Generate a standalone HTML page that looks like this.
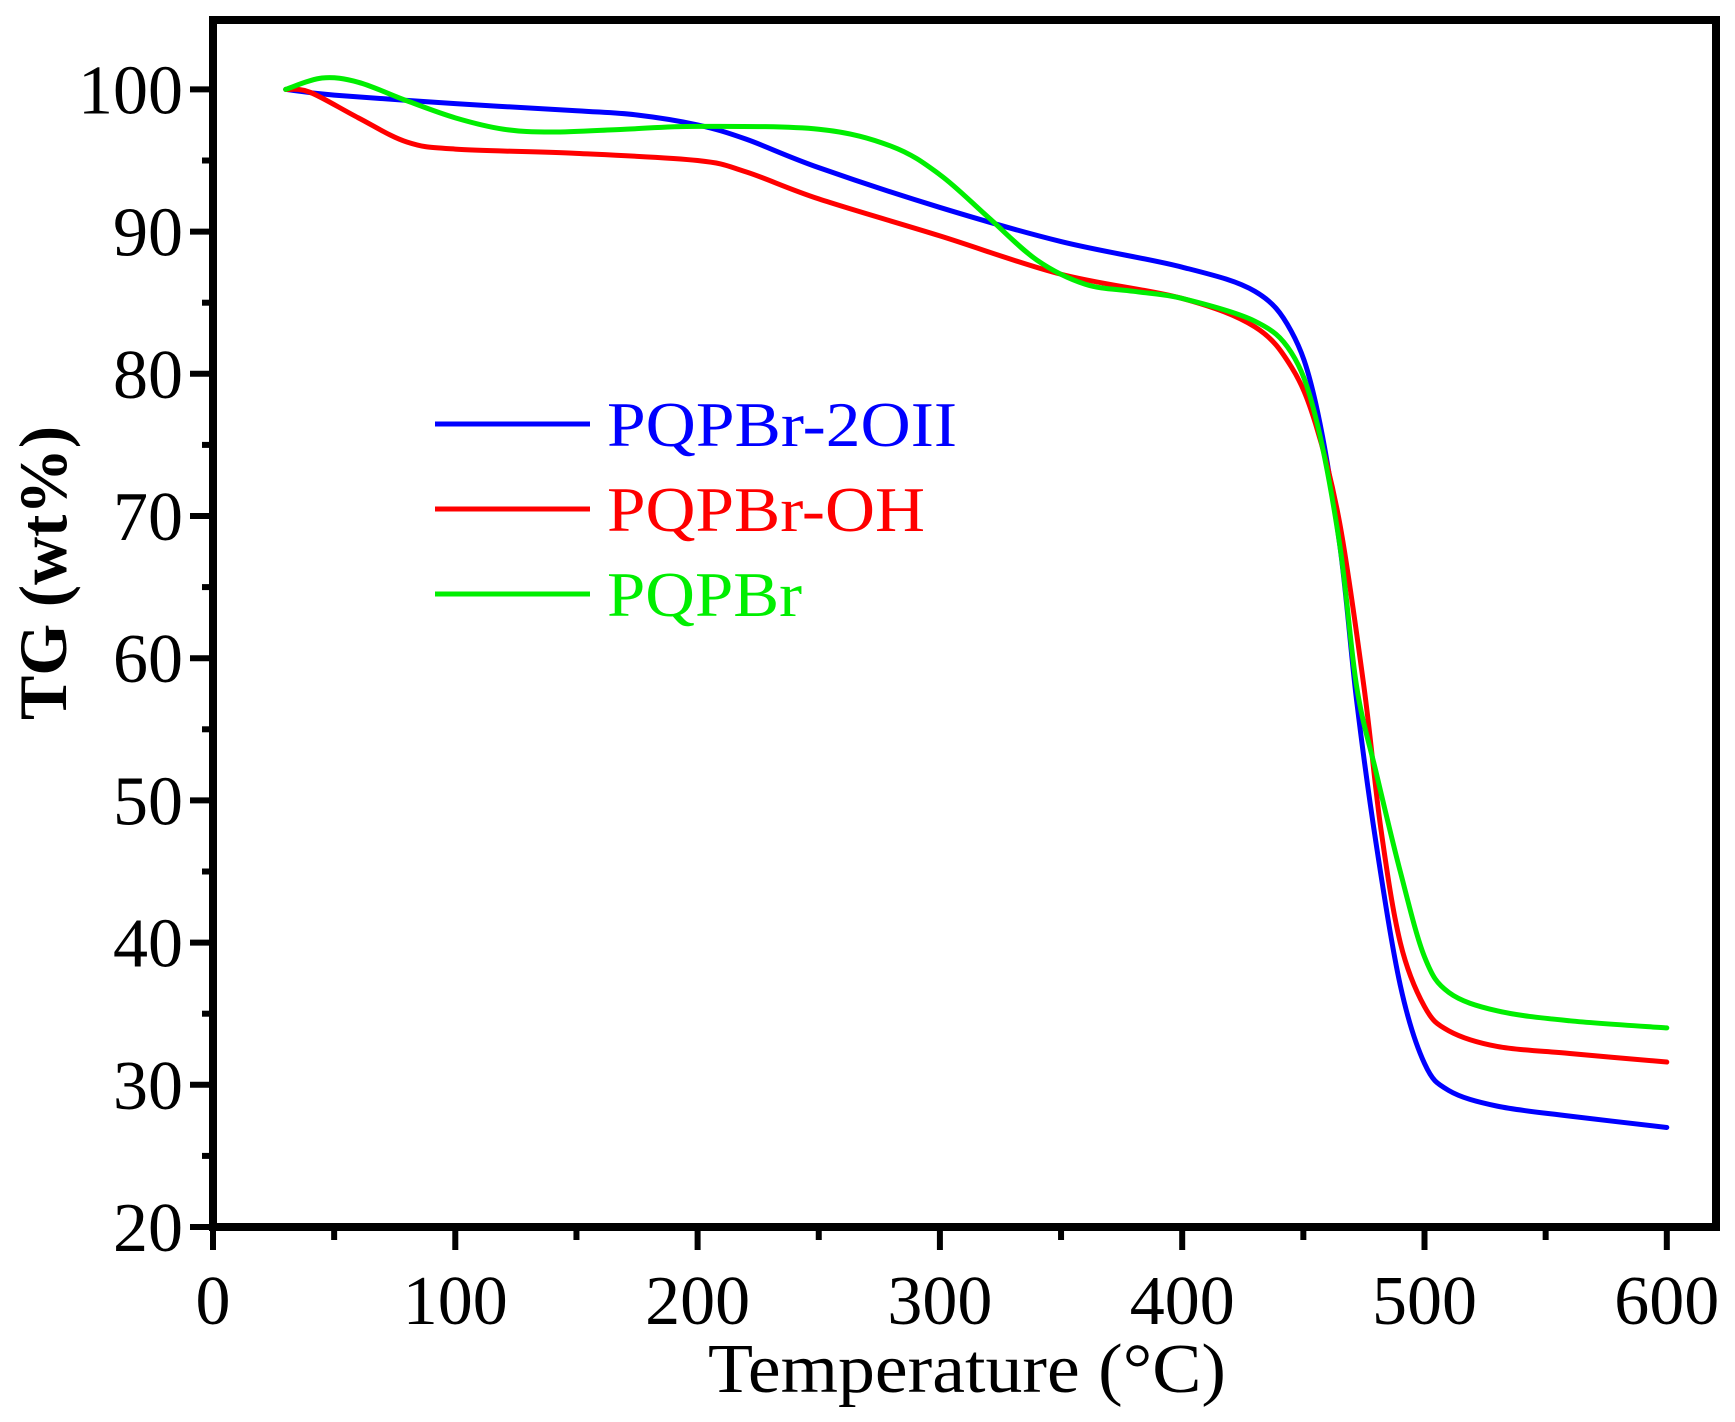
<!DOCTYPE html>
<html><head><meta charset="utf-8"><style>
html,body{margin:0;padding:0;background:#fff;}
svg{display:block;}
text{font-family:"Liberation Serif",serif;}
</style></head><body>
<svg id="s" width="1735" height="1422" viewBox="0 0 1735 1422" xmlns="http://www.w3.org/2000/svg">
<g id="ticks" stroke="#000" stroke-width="6"></g>
<rect x="213" y="20" width="1503" height="1207" fill="none" stroke="#000" stroke-width="8"/>
<g id="curves" fill="none" stroke-width="5" stroke-linejoin="round" stroke-linecap="round"></g>
<g id="labels" font-size="70" fill="#000"></g>
<text x="967" y="1392" font-size="70" text-anchor="middle" textLength="518" lengthAdjust="spacingAndGlyphs">Temperature (°C)</text>
<text transform="translate(66,573) rotate(-90)" font-size="68" font-weight="bold" text-anchor="middle" textLength="294" lengthAdjust="spacingAndGlyphs">TG (wt%)</text>
<line x1="435" y1="424" x2="590" y2="424" stroke="#0000ff" stroke-width="5"/>
<line x1="435" y1="509" x2="590" y2="509" stroke="#ff0000" stroke-width="5"/>
<line x1="435" y1="594" x2="590" y2="594" stroke="#00ee00" stroke-width="5"/>
<text x="607" y="446" font-size="64" fill="#0000ff" textLength="350" lengthAdjust="spacingAndGlyphs">PQPBr-2OII</text>
<text x="607" y="531" font-size="64" fill="#ff0000" textLength="318" lengthAdjust="spacingAndGlyphs">PQPBr-OH</text>
<text x="607" y="616" font-size="64" fill="#00ee00" textLength="195" lengthAdjust="spacingAndGlyphs">PQPBr</text>
</svg>
<script>
var NS="http://www.w3.org/2000/svg";
function X(t){return 213+t*242.3/100;}
function Y(w){return 1227-(w-20)*14.22;}
var tk=document.getElementById("ticks"),lb=document.getElementById("labels");
function ln(a,b,c,d){var l=document.createElementNS(NS,"line");l.setAttribute("x1",a);l.setAttribute("y1",b);l.setAttribute("x2",c);l.setAttribute("y2",d);tk.appendChild(l);}
function tx(x,y,s,anc){var t=document.createElementNS(NS,"text");t.setAttribute("x",x);t.setAttribute("y",y);t.setAttribute("text-anchor",anc);t.setAttribute("textLength",s.length*35);t.setAttribute("lengthAdjust","spacingAndGlyphs");t.textContent=s;lb.appendChild(t);}
for(var t=0;t<=600;t+=50){var x=X(t);ln(x,1227,x,t%100==0?1250:1240);if(t%100==0)tx(x,1324,""+t,"middle");}
for(var w=20;w<=100;w+=5){var y=Y(w);ln(213,y,w%10==0?190:202,y);if(w%10==0)tx(183,y+24,""+w,"end");}
var data={
"#0000ff":[[30,100],[50,99.6],[100,99],[150,98.5],[175,98.2],[200,97.5],[220,96.5],[250,94.5],[300,91.7],[350,89.3],[400,87.5],[430,85.8],[445,83],[455,78],[465,68],[472,57],[480,47],[490,37],[500,31.5],[510,29.6],[530,28.5],[560,27.8],[600,27]],
"#ff0000":[[30,100],[40,99.8],[60,98],[80,96.3],[100,95.8],[150,95.5],[200,95],[220,94.2],[250,92.3],[300,89.7],[350,87],[400,85.3],[430,83.3],[445,80.5],[455,76.5],[465,69.5],[475,58],[482,48],[490,40],[500,35.5],[510,33.8],[530,32.7],[560,32.2],[600,31.6]],
"#00ee00":[[30,100],[45,100.8],[60,100.5],[80,99.2],[100,98],[120,97.2],[140,97],[170,97.2],[200,97.4],[250,97.2],[280,96],[300,94],[320,91],[340,88],[360,86.3],[380,85.8],[400,85.3],[430,83.7],[445,81.5],[455,77],[465,68],[472,58],[480,52],[490,45],[500,39],[510,36.5],[530,35.2],[560,34.5],[600,34]]};
var cv=document.getElementById("curves");
for(var c in data){var p=data[c].map(function(d){return [X(d[0]),Y(d[1])];});
var s="M"+p[0][0]+","+p[0][1];
for(var i=0;i<p.length-1;i++){var p0=p[Math.max(0,i-1)],p1=p[i],p2=p[i+1],p3=p[Math.min(p.length-1,i+2)];
s+=" C"+(p1[0]+(p2[0]-p0[0])/6)+","+(p1[1]+(p2[1]-p0[1])/6)+" "+(p2[0]-(p3[0]-p1[0])/6)+","+(p2[1]-(p3[1]-p1[1])/6)+" "+p2[0]+","+p2[1];}
var e=document.createElementNS(NS,"path");e.setAttribute("d",s);e.setAttribute("stroke",c);cv.appendChild(e);}
</script>
</body></html>
